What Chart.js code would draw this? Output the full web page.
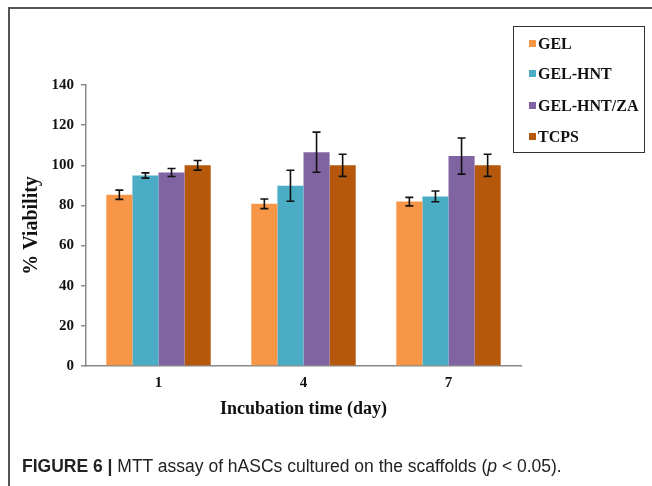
<!DOCTYPE html>
<html>
<head>
<meta charset="utf-8">
<script src="https://cdn.jsdelivr.net/npm/chart.js@4.4.1/dist/chart.umd.min.js"></script>
<style>
body { margin: 0; background: #fff; width: 652px; height: 486px; overflow: hidden; position: relative; }
#frame { position: absolute; left: 8px; top: 7px; right: -4px; bottom: -4px; border-left: 2px solid #555; border-top: 2px solid #555; }
#wrap { position: absolute; left: 0; top: 0; width: 652px; height: 486px; }
#legend { position: absolute; left: 513px; top: 26px; width: 132px; height: 127px; border: 1.5px solid #333; box-sizing: border-box;
  font-family: "Liberation Serif", serif; font-weight: bold; font-size: 16px; color: #111; }
#legend div { position: absolute; left: 15px; white-space: nowrap; line-height: 18px; }
#legend span { display: inline-block; width: 7px; height: 7px; margin-right: 2px; vertical-align: 2px; }
#caption { position: absolute; left: 22px; top: 456px; font-family: "Liberation Sans", sans-serif; font-size: 17.5px; color: #222; white-space: nowrap; }
</style>
</head>
<body>
<div id="frame"></div>
<div id="wrap"><canvas id="chart"></canvas></div>
<div id="legend"></div>
<div id="caption"><b>FIGURE 6 |</b> MTT assay of hASCs cultured on the scaffolds (<i>p</i> &lt; 0.05).</div>
<script>
// values
const days = ['1', '4', '7'];
const seriesNames = ['GEL', 'GEL-HNT', 'GEL-HNT/ZA', 'TCPS'];
const gel = [85.3, 80.8, 81.9];
const gelErr = [2.3, 2.4, 2.1];
const gelHnt = [94.9, 89.8, 84.5];
const gelHntErr = [1.3, 7.7, 2.7];
const gelHntZa = [96.4, 106.5, 104.6];
const gelHntZaErr = [2.0, 10.0, 9.0];
const tcps = [100, 100, 100];
const tcpsErr = [2.4, 5.5, 5.5];
const yTicks = [0, 20, 40, 60, 80, 100, 120, 140];

const colors = ['#F79646', '#4BACC6', '#8064A2', '#B5580B'];
const values = [gel, gelHnt, gelHntZa, tcps];
const errors = [gelErr, gelHntErr, gelHntZaErr, tcpsErr];

// legend box
const legendEl = document.getElementById('legend');
const legendTops = [8, 38, 70, 101];
seriesNames.forEach((name, i) => {
    const d = document.createElement('div');
    d.style.top = legendTops[i] + 'px';
    d.innerHTML = '<span style="background:' + colors[i] + '"></span>' + name;
    legendEl.appendChild(d);
});

// error bars drawn from the y scale
const errorBars = {
    id: 'errorBars',
    afterDatasetsDraw(chart) {
        const ctx = chart.ctx;
        const y = chart.scales.y;
        ctx.save();
        ctx.strokeStyle = '#111';
        ctx.lineWidth = 1.6;
        chart.data.datasets.forEach((ds, i) => {
            chart.getDatasetMeta(i).data.forEach((bar, j) => {
                const v = ds.data[j], e = ds.errors[j];
                const t = y.getPixelForValue(v + e), b = y.getPixelForValue(v - e);
                ctx.beginPath();
                ctx.moveTo(bar.x, t); ctx.lineTo(bar.x, b);
                ctx.moveTo(bar.x - 4, t); ctx.lineTo(bar.x + 4, t);
                ctx.moveTo(bar.x - 4, b); ctx.lineTo(bar.x + 4, b);
                ctx.stroke();
            });
        });
        ctx.restore();
    }
};

const serif = "'Liberation Serif', 'Times New Roman', serif";

new Chart(document.getElementById('chart'), {
    type: 'bar',
    data: {
        labels: days,
        datasets: seriesNames.map((name, i) => ({
            label: name,
            data: values[i],
            errors: errors[i],
            backgroundColor: colors[i],
            borderWidth: 0,
            categoryPercentage: 0.72,
            barPercentage: 1.0
        }))
    },
    options: {
        responsive: true,
        maintainAspectRatio: false,
        animation: false,
        layout: { padding: { left: 0, top: 85, right: 131, bottom: 60 } },
        plugins: { legend: { display: false }, tooltip: { enabled: false } },
        scales: {
            x: {
                afterFit: s => { s.height = 60; },
                grid: { display: false },
                border: { display: true, color: '#8a8a8a', width: 1.5 },
                ticks: { color: '#111', padding: 0, font: { family: serif, size: 15, weight: 'bold' } },
                title: { display: true, text: 'Incubation time (day)', color: '#111',
                    padding: { top: 0, bottom: 6 }, font: { family: serif, size: 18, weight: 'bold' } }
            },
            y: {
                min: 0,
                max: 140,
                afterFit: s => { s.width = 86; },
                afterBuildTicks: s => { s.ticks = yTicks.map(v => ({ value: v })); },
                grid: { display: true, drawOnChartArea: false, drawTicks: true, tickLength: 5, color: '#8a8a8a', lineWidth: 1.5 },
                border: { display: true, color: '#8a8a8a', width: 1.5 },
                ticks: { color: '#111', padding: 7, font: { family: serif, size: 15, weight: 'bold' } },
                title: { display: true, text: '% Viability', color: '#111',
                    padding: { top: 20, bottom: 0 }, font: { family: serif, size: 20, weight: 'bold' } }
            }
        }
    },
    plugins: [errorBars]
});
</script>
</body>
</html>
